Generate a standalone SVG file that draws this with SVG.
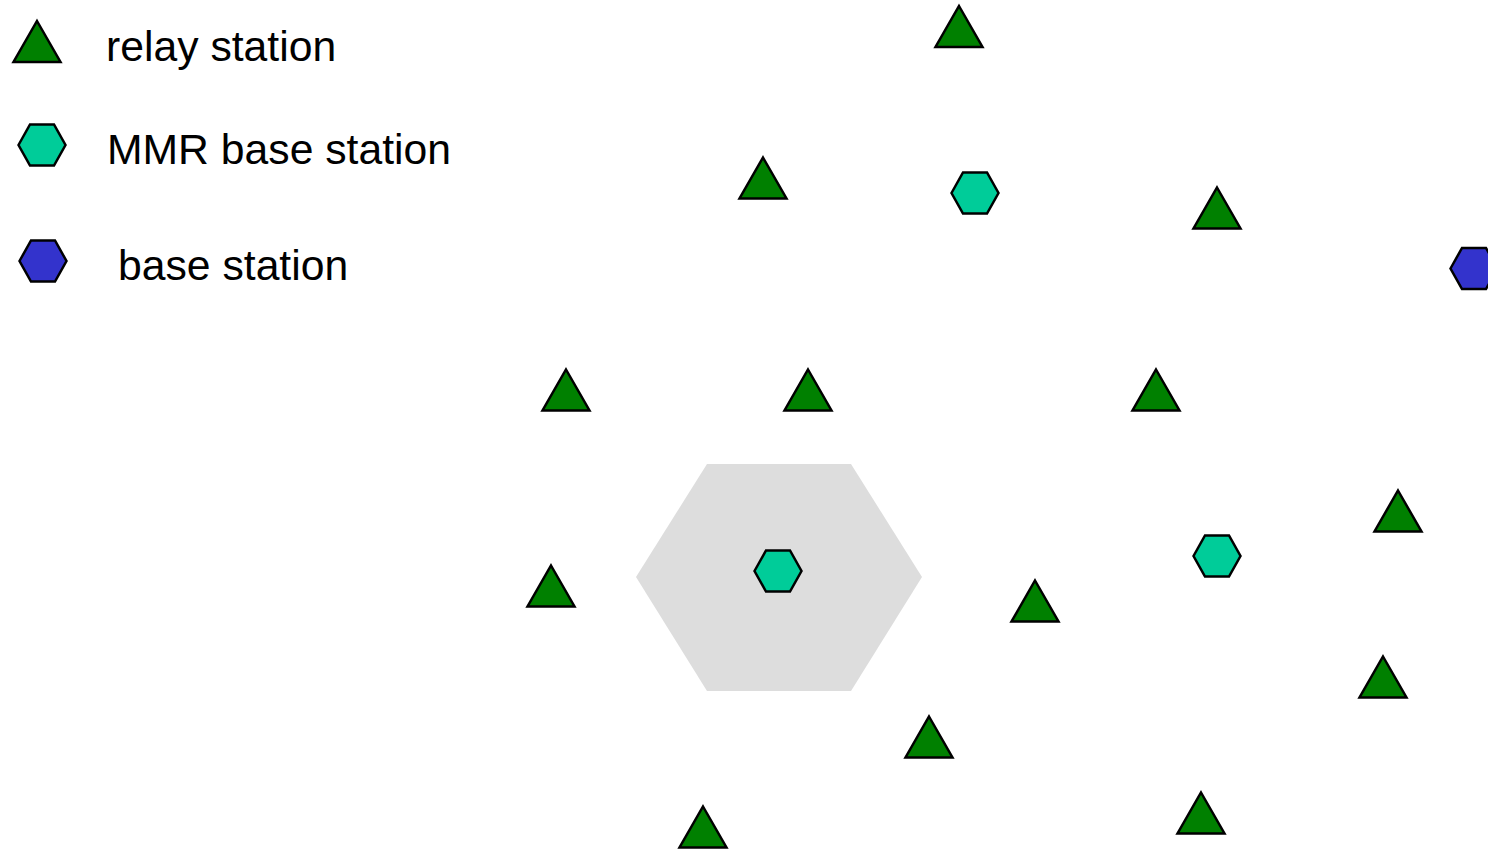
<svg xmlns="http://www.w3.org/2000/svg" xmlns:xlink="http://www.w3.org/1999/xlink" width="1488" height="849" viewBox="0 0 1488 849">
<style>
.relay{fill:#008000;stroke:#000;stroke-width:2.5;stroke-linejoin:miter}
.mmr{fill:#00CC99;stroke:#000;stroke-width:2.5}
.bs{fill:#3333CC;stroke:#000;stroke-width:2.5}
.lbl{font-family:"Liberation Sans",Arial,sans-serif;font-size:42.7px;fill:#000}
</style>
<defs>
<polygon id="tri" points="0,-20.5 23.5,20.5 -23.5,20.5"/>
<polygon id="hex" points="-23.5,0 -12,-20.5 12,-20.5 23.5,0 12,20.5 -12,20.5"/>
</defs>
<rect width="1488" height="849" fill="#fff"/>
<g id="coverage">
<polygon points="636,577 707,464 851,464 922,577 851,691 707,691" fill="#dddddd"/>
</g>
<g id="legend">
<g id="legend-relay"><use xlink:href="#tri" class="relay" x="37" y="41.5"/><text class="lbl" x="106" y="61">relay station</text></g>
<g id="legend-mmr"><use xlink:href="#hex" class="mmr" x="42" y="145"/><text class="lbl" x="107" y="164">MMR base station</text></g>
<g id="legend-bs"><use xlink:href="#hex" class="bs" x="43" y="261"/><text class="lbl" x="118" y="280">base station</text></g>
</g>
<g id="connectors"/>
<g id="rs1"><use xlink:href="#tri" class="relay" x="959" y="26.5"/></g>
<g id="rs2"><use xlink:href="#tri" class="relay" x="763" y="178"/></g>
<g id="rs3"><use xlink:href="#tri" class="relay" x="1217" y="208"/></g>
<g id="rs4"><use xlink:href="#tri" class="relay" x="566" y="390"/></g>
<g id="rs5"><use xlink:href="#tri" class="relay" x="808" y="390"/></g>
<g id="rs6"><use xlink:href="#tri" class="relay" x="1156" y="390"/></g>
<g id="rs7"><use xlink:href="#tri" class="relay" x="1398" y="511"/></g>
<g id="rs8"><use xlink:href="#tri" class="relay" x="551" y="586"/></g>
<g id="rs9"><use xlink:href="#tri" class="relay" x="1035" y="601"/></g>
<g id="rs10"><use xlink:href="#tri" class="relay" x="1383" y="677"/></g>
<g id="rs11"><use xlink:href="#tri" class="relay" x="929" y="737"/></g>
<g id="rs12"><use xlink:href="#tri" class="relay" x="1201" y="813"/></g>
<g id="rs13"><use xlink:href="#tri" class="relay" x="703" y="827"/></g>
<g id="mmr1"><use xlink:href="#hex" class="mmr" x="975" y="193"/></g>
<g id="mmr2"><use xlink:href="#hex" class="mmr" x="778" y="571"/></g>
<g id="mmr3"><use xlink:href="#hex" class="mmr" x="1217" y="556"/></g>
<g id="bs1"><use xlink:href="#hex" class="bs" x="1474" y="268.5"/></g>
</svg>
